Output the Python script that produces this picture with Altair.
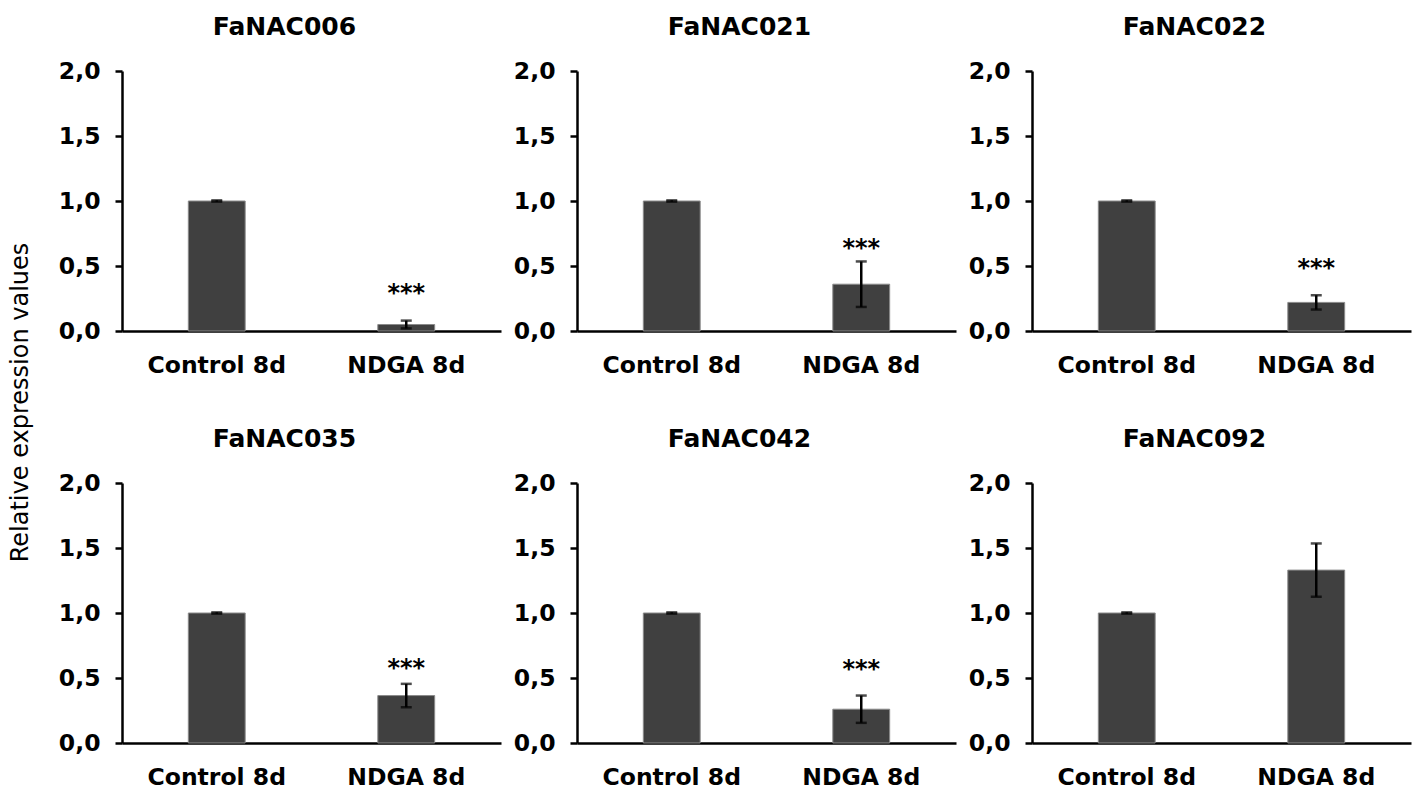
import altair as alt
import pandas as pd

genes = ["FaNAC006", "FaNAC021", "FaNAC022", "FaNAC035", "FaNAC042", "FaNAC092"]
conditions = ["Control 8d", "NDGA 8d"]
control_mean = [1.0, 1.0, 1.0, 1.0, 1.0, 1.0]
control_err = [0.005, 0.005, 0.005, 0.005, 0.005, 0.005]
ndga_mean = [0.05, 0.36, 0.22, 0.365, 0.26, 1.33]
ndga_err = [0.03, 0.175, 0.055, 0.09, 0.105, 0.205]
sig_label = ["***", "***", "***", "***", "***", ""]
sig_pos = [0.333, 0.677, 0.524, 0.619, 0.607, 0.0]

rows = []
for i, g in enumerate(genes):
    rows.append(dict(gene=g, cond=conditions[0], mean=control_mean[i],
                     lo=control_mean[i] - control_err[i], hi=control_mean[i] + control_err[i],
                     sig="", star=0.0))
    rows.append(dict(gene=g, cond=conditions[1], mean=ndga_mean[i],
                     lo=ndga_mean[i] - ndga_err[i], hi=ndga_mean[i] + ndga_err[i],
                     sig=sig_label[i], star=sig_pos[i]))
df = pd.DataFrame(rows)

FONT = "DejaVu Sans"
LABEL_EXPR = "replace(format(datum.value, '.1f'), '.', ',')"

xscale = alt.Scale(domain=conditions, paddingInner=0.7, paddingOuter=0.35)
yscale = alt.Scale(domain=[0, 2], nice=False)

xaxis = alt.Axis(title=None, ticks=False, labelAngle=0, domainColor="black", domainWidth=2.5,
                 labelPadding=22, labelFont=FONT, labelFontSize=23.5, labelFontWeight="bold",
                 labelColor="black", grid=False)


def yaxis(first):
    kw = dict(values=[0, 0.5, 1.0, 1.5, 2.0], labelExpr=LABEL_EXPR, domainColor="black",
              domainWidth=2.5, tickColor="black", tickWidth=2.5, tickSize=7,
              labelFont=FONT, labelFontSize=23.5, labelFontWeight="bold", labelColor="black",
              labelPadding=15, grid=False)
    if first:
        kw.update(title="Relative expression values", titleX=-102, titleY=331,
                  titleAngle=270, titleAlign="center", titleBaseline="middle",
                  titleFont=FONT, titleFontSize=24, titleFontWeight="normal",
                  titleColor="black")
    else:
        kw.update(title=None)
    return alt.Axis(**kw)


panels = []
for i, g in enumerate(genes):
    base = alt.Chart(df).transform_filter(alt.datum.gene == g)
    x = alt.X("cond:N", scale=xscale, axis=xaxis, sort=conditions)
    bars = base.mark_bar(color="#404040", stroke="#8a8a8a", strokeWidth=1).encode(
        x=x,
        y=alt.Y("mean:Q", scale=yscale, axis=yaxis(i == 0)),
    )
    rule = base.mark_rule(color="black", strokeWidth=2.5).encode(
        x=x, y=alt.Y("lo:Q", scale=yscale), y2="hi:Q"
    )
    cap_lo = base.mark_tick(color="black", thickness=2.5, size=11).encode(
        x=x, y=alt.Y("lo:Q", scale=yscale)
    )
    cap_hi = base.mark_tick(color="black", thickness=2.5, size=11).encode(
        x=x, y=alt.Y("hi:Q", scale=yscale)
    )
    stars = base.transform_filter(alt.datum.sig != "").mark_text(
        font=FONT, fontSize=24, fontWeight="bold", color="black", baseline="alphabetic", dy=13
    ).encode(x=x, y=alt.Y("star:Q", scale=yscale), text="sig:N")
    panel = alt.layer(bars, rule, cap_lo, cap_hi, stars).properties(
        width=379, height=260,
        title=alt.TitleParams(g, font=FONT, fontSize=25, fontWeight="bold", color="black",
                              anchor="middle", dx=-27, offset=-1, baseline="alphabetic"),
    )
    panels.append(panel)

chart = alt.concat(*panels, columns=3, spacing={"row": 152, "column": 76}).properties(
    bounds="flush",
    padding={"left": 8, "top": 15, "right": 5, "bottom": 5},
).configure_view(stroke=None)

chart.save("out.html", embed_options={"renderer": "svg", "actions": False})
